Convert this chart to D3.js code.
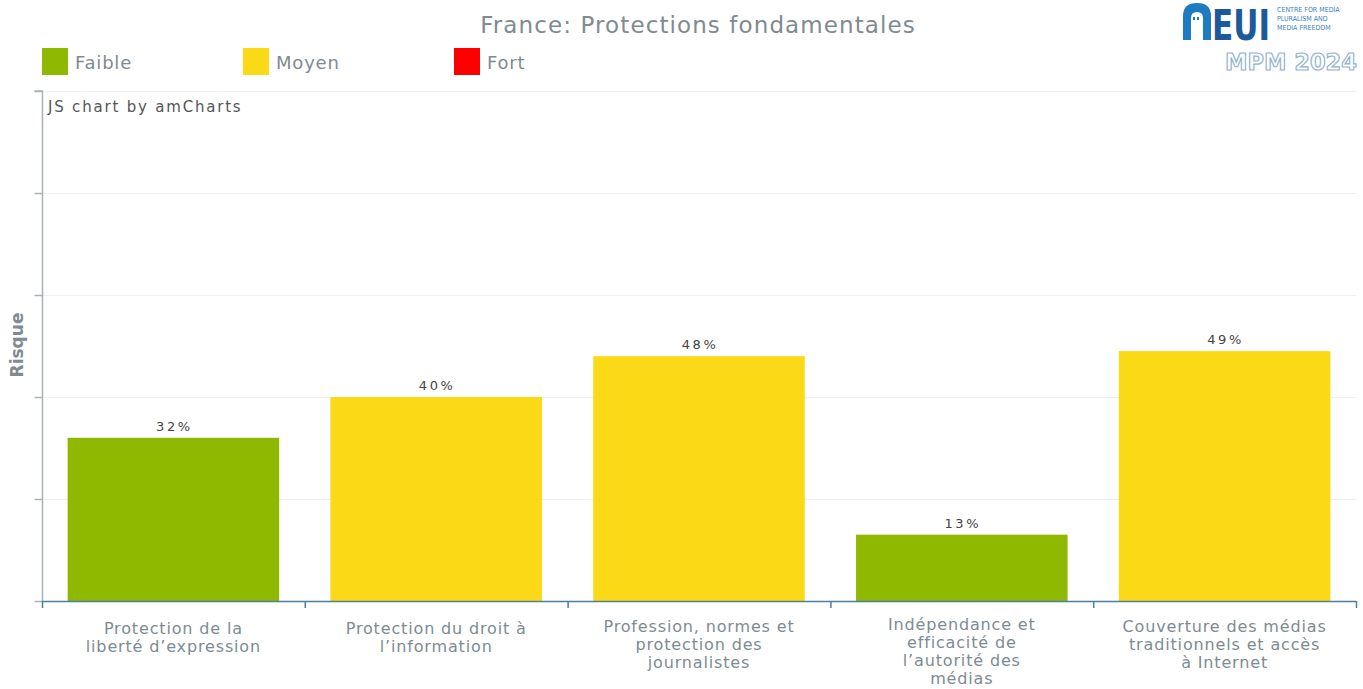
<!DOCTYPE html>
<html><head><meta charset="utf-8">
<script src="https://cdn.jsdelivr.net/npm/d3@7"></script>
<style>
body{margin:0;background:#fff;}
svg{display:block;font-family:"DejaVu Sans",Verdana,sans-serif;}
</style></head>
<body>
<svg id="chart" width="1363" height="689"></svg>
<script>
const categories = [
  ["Protection de la","liberté d’expression"],
  ["Protection du droit à","l’information"],
  ["Profession, normes et","protection des","journalistes"],
  ["Indépendance et","efficacité de","l’autorité des","médias"],
  ["Couverture des médias","traditionnels et accès","à Internet"]
];
const values = [32, 40, 48, 13, 49];
const levels = ["Faible","Moyen","Moyen","Faible","Moyen"];
const legendLabels = ["Faible","Moyen","Fort"];
const legendColors = ["#8fb800","#fcd916","#ff0000"];
const yTicks = [0,20,40,60,80,100];

const svg = d3.select("#chart");
const W = 1363, H = 689;
const m = {left:42, right:7, top:91, bottom:88};
const x = d3.scaleBand().domain(d3.range(values.length)).range([m.left, W-m.right]).paddingInner(0).paddingOuter(0);
const y = d3.scaleLinear().domain([0,100]).range([H-m.bottom, m.top]);
const color = d3.scaleOrdinal().domain(legendLabels).range(legendColors);

// gridlines
svg.append("g").selectAll("line").data(yTicks.slice(1)).join("line")
  .attr("x1", m.left).attr("x2", W-m.right)
  .attr("y1", d=>y(d)+0.5).attr("y2", d=>y(d)+0.5)
  .attr("stroke","#efefef").attr("stroke-width",1);

// y axis
const yAxis = svg.append("g").attr("transform",`translate(${m.left+0.5},0)`)
  .call(d3.axisLeft(y).tickValues(yTicks).tickSize(8).tickFormat(""));
yAxis.select(".domain").attr("stroke","#a9b2b9").attr("stroke-width",1.5).attr("d",`M-8,${y(100)}H0V${y(0)}`);
yAxis.selectAll(".tick line").attr("stroke","#a9b2b9").attr("stroke-width",1.5);

// bars
const bw = x.bandwidth()*0.805;
svg.append("g").selectAll("rect").data(values).join("rect")
  .attr("x",(d,i)=>x(i)+(x.bandwidth()-bw)/2)
  .attr("y",d=>y(d))
  .attr("width",bw)
  .attr("height",d=>y(0)-y(d))
  .attr("fill",(d,i)=>color(levels[i]));

// bar labels
svg.append("g").selectAll("text").data(values).join("text")
  .attr("x",(d,i)=>x(i)+x.bandwidth()/2+1)
  .attr("y",d=>y(d)-7)
  .attr("text-anchor","middle")
  .attr("font-size",13).attr("letter-spacing",2.6)
  .attr("fill","#444")
  .text(d=>d+"%");

// x axis
const xAxisG = svg.append("g").attr("transform",`translate(0,${y(0)})`);
xAxisG.append("line").attr("x1",m.left).attr("x2",W-m.right).attr("y1",0.5).attr("y2",0.5)
  .attr("stroke","#4c7ea3").attr("stroke-width",1.5);
const bounds = d3.range(values.length+1).map(i=> i<values.length ? x(i) : x(values.length-1)+x.bandwidth());
xAxisG.selectAll("line.tk").data(bounds).join("line").attr("class","tk")
  .attr("x1",d=>d+0.5).attr("x2",d=>d+0.5).attr("y1",0).attr("y2",7)
  .attr("stroke","#4c7ea3").attr("stroke-width",1.5);

// category labels
const lab = svg.append("g").selectAll("text").data(categories).join("text")
  .attr("text-anchor","middle").attr("font-size",16).attr("letter-spacing",0.85).attr("fill","#7d8b93");
lab.each(function(lines,i){
  const t = d3.select(this);
  const cx = x(i)+x.bandwidth()/2;
  const startY = 634 - (lines.length-2)*2;
  lines.forEach((ln,j)=>{
    t.append("tspan").attr("x",cx).attr("y",startY + j*18).text(ln);
  });
});

// title
svg.append("text").attr("x",698).attr("y",33).attr("text-anchor","middle")
  .attr("font-size",23).attr("letter-spacing",1.1).attr("fill","#7f8a91").text("France: Protections fondamentales");

// legend
const lg = svg.append("g").selectAll("g").data(legendLabels).join("g")
  .attr("transform",(d,i)=>`translate(${[42,243,454][i]},48)`);
lg.append("rect").attr("width",26).attr("height",27).attr("fill",d=>color(d));
lg.append("text").attr("x",33).attr("y",21).attr("font-size",18).attr("letter-spacing",0.8).attr("fill","#7f8a91").text(d=>d);

// credit
svg.append("text").attr("x",48).attr("y",112).attr("font-size",15).attr("letter-spacing",1.8)
  .attr("fill","#555").text("JS chart by amCharts");

// y axis title
svg.append("text").attr("transform","translate(23,345) rotate(-90)")
  .attr("text-anchor","middle").attr("font-size",17).attr("font-weight","bold")
  .attr("fill","#7f8a91").text("Risque");

// logo
const logo = svg.append("g");
logo.append("path").attr("d","M1183,40V16Q1183,3 1197,3Q1211,3 1211,16V40H1203V18Q1203,12 1197,12Q1191,12 1191,18V40Z")
  .attr("fill","#1f7bc1");
logo.append("rect").attr("x",1193).attr("y",17).attr("width",2).attr("height",3).attr("fill","#1f7bc1");
logo.append("rect").attr("x",1197).attr("y",17).attr("width",2).attr("height",3).attr("fill","#1f7bc1");
logo.append("g").attr("transform","translate(1212,40) scale(1,1.25)")
  .append("text").attr("x",0).attr("y",0).attr("font-family","'DejaVu Sans Condensed',sans-serif")
  .attr("font-weight","bold").attr("font-size",34).attr("fill","#1c5a99").attr("textLength",58).attr("lengthAdjust","spacingAndGlyphs").text("EUI");
["CENTRE FOR MEDIA","PLURALISM AND","MEDIA FREEDOM"].forEach((s,i)=>{
  logo.append("text").attr("x",1277).attr("y",12+i*9).attr("font-size",7)
    .attr("font-family","'DejaVu Sans Condensed',sans-serif").attr("fill","#3b7fc0").text(s);
});
logo.append("text").attr("x",1225).attr("y",70).attr("font-size",23).attr("font-weight","bold")
  .attr("font-family","'DejaVu Sans',sans-serif")
  .attr("fill","#fff").attr("stroke","#8fb3cf").attr("stroke-width",1.2)
  .attr("textLength",132).attr("lengthAdjust","spacingAndGlyphs").text("MPM 2024");
</script>
</body></html>
